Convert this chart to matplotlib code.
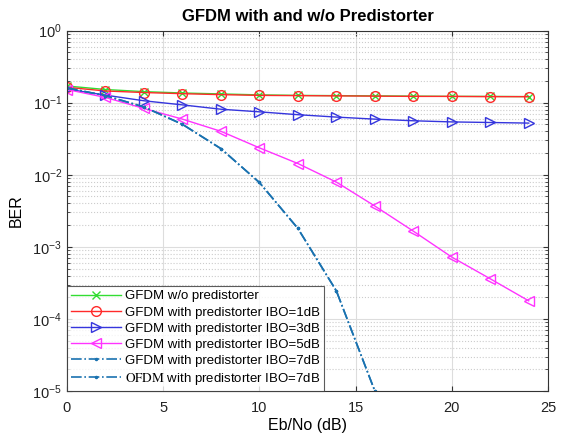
import numpy as np
import matplotlib
matplotlib.use("Agg")
import matplotlib.pyplot as plt
from matplotlib.ticker import LogLocator, NullFormatter, MultipleLocator

plt.rcParams['font.family'] = ['Liberation Sans', 'DejaVu Sans']
plt.rcParams['mathtext.fontset'] = 'stix'

ebno = [0, 2, 4, 6, 8, 10, 12, 14, 16, 18, 20, 22, 24]
ber_no_pd = [0.17, 0.152, 0.142, 0.136, 0.132, 0.128, 0.126, 0.125, 0.124, 0.123, 0.122, 0.122, 0.121]
ber_ibo1 = [0.163, 0.145, 0.138, 0.133, 0.129, 0.126, 0.125, 0.124, 0.123, 0.122, 0.122, 0.121, 0.121]
ber_ibo3 = [0.154, 0.127, 0.106, 0.093, 0.081, 0.0745, 0.068, 0.063, 0.059, 0.056, 0.054, 0.053, 0.052]
ber_ibo5 = [0.152, 0.118, 0.083, 0.059, 0.040, 0.0236, 0.0143, 0.0079, 0.00368, 0.00165, 0.00072, 0.00036, 0.000178]
ebno_7 = [0, 2, 4, 6, 8, 10, 12, 14, 16]
ber_gfdm7 = [0.16, 0.125, 0.087, 0.050, 0.023, 0.0078, 0.0018, 0.000245, 0.00001]
ber_ofdm7 = [0.16, 0.125, 0.087, 0.050, 0.023, 0.0078, 0.0018, 0.000245, 0.00001]

fig = plt.figure(figsize=(5.61, 4.36), dpi=100)
ax = fig.add_axes([0.1194, 0.1032, 0.8574, 0.8268])

ax.semilogy(ebno, ber_no_pd, color='#33dd33', marker='x', ms=6, lw=1.0,
            label='GFDM w/o predistorter')
ax.semilogy(ebno, ber_ibo1, color='#ff2a2a', marker='o', ms=7, mfc='none', lw=1.0,
            label='GFDM with predistorter IBO=1dB')
ax.semilogy(ebno, ber_ibo3, color='#3535dd', marker='>', ms=7.5, mfc='none', lw=1.0,
            label='GFDM with predistorter IBO=3dB')
ax.semilogy(ebno, ber_ibo5, color='#ff33ff', marker='<', ms=7.5, mfc='none', lw=1.0,
            label='GFDM with predistorter IBO=5dB')
ax.semilogy(ebno_7, ber_gfdm7, color='#1a72b0', marker='.', ms=3, ls='-.', lw=1.2,
            label='GFDM with predistorter IBO=7dB')
ax.semilogy(ebno_7, ber_ofdm7, color='#1a72b0', marker='.', ms=3, ls='-.', lw=1.2,
            label=r'$\mathrm{OFDM}$ with predistorter IBO=7dB')

ax.set_xlim(0, 25)
ax.set_ylim(1e-5, 1)
ax.xaxis.set_major_locator(MultipleLocator(5))
ax.yaxis.set_major_locator(LogLocator(base=10, numticks=10))
ax.yaxis.set_minor_locator(LogLocator(base=10, subs=np.arange(2, 10), numticks=10))
ax.yaxis.set_minor_formatter(NullFormatter())

ax.grid(True, which='major', color='#dddddd', lw=0.8, ls='-')
ax.grid(True, which='minor', axis='y', color='#cccccc', lw=0.8, ls=':')
ax.set_axisbelow(True)

for s in ax.spines.values():
    s.set_color('#333333')
    s.set_linewidth(0.8)
ax.tick_params(which='both', direction='in', top=True, right=True, labelsize=10.5,
               colors='#333333', labelcolor='#222222')
ax.tick_params(which='minor', length=2)
ax.tick_params(axis='x', pad=7)

ax.set_title('GFDM with and w/o Predistorter', fontsize=12, fontweight='bold', pad=7)
ax.set_xlabel('Eb/No (dB)', fontsize=11.5, labelpad=2)
ax.set_ylabel('BER', fontsize=11.5, labelpad=6)

leg = ax.legend(loc='lower left', fontsize=9.5, borderaxespad=0, frameon=True,
                fancybox=False, edgecolor='#333333', handlelength=3.8,
                labelspacing=0.3, borderpad=0.3, handletextpad=0.3)
leg.get_frame().set_linewidth(0.8)

fig.savefig('out.png', dpi=100)
